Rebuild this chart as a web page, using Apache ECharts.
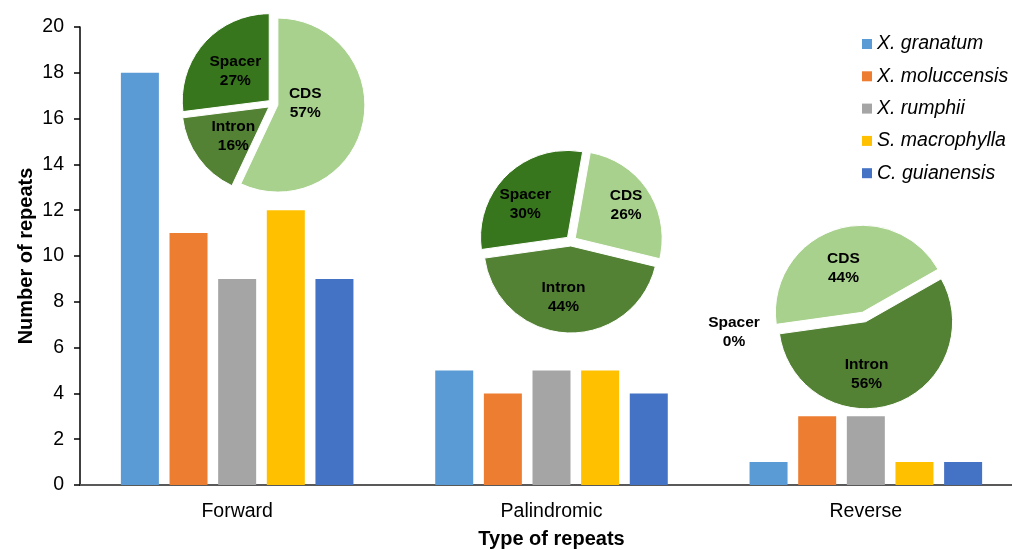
<!DOCTYPE html>
<html>
<head>
<meta charset="utf-8">
<title>Repeat types</title>
<script src="https://cdn.jsdelivr.net/npm/echarts@6/dist/echarts.min.js"></script>
<style>
  html, body { margin: 0; padding: 0; background: #fff; }
  #chart { width: 1012px; height: 550px; }
</style>
</head>
<body>
<div id="chart"></div>
<script>
// Repeat counts per type and species
const repeatTypes = ['Forward', 'Palindromic', 'Reverse'];
const species = ['X. granatum', 'X. moluccensis', 'X. rumphii', 'S. macrophylla', 'C. guianensis'];
const xGranatum = [18, 5, 1];
const xMoluccensis = [11, 4, 3];
const xRumphii = [9, 5, 3];
const sMacrophylla = [12, 5, 1];
const cGuianensis = [9, 4, 1];
const yTicks = { min: 0, max: 20, interval: 2 };

// Share (%) of repeats located in each genomic region, per repeat type
const regions = ['CDS', 'Intron', 'Spacer'];
const forwardShare = [57, 16, 27];
const palindromicShare = [26, 44, 30];
const reverseShare = [44, 56, 0];

const speciesColors = ['#5B9BD5', '#ED7D31', '#A5A5A5', '#FFC000', '#4472C4'];
const regionColors = ['#A9D18E', '#548235', '#38761D'];

// pie placement and label nudges (dx, dy per slice)
const pieLayouts = [
  { center: [273, 104], startAngle: 90,  nudge: [[-18, -12], [2, 2], [1, 1]] },
  { center: [571, 241], startAngle: 80,  nudge: [[12, -8], [-5, 5], [-10, 0]] },
  { center: [864, 317], startAngle: 188, nudge: [[-4, 0], [-14, 8], [-79, 8]] }
];

const seriesValues = [xGranatum, xMoluccensis, xRumphii, sMacrophylla, cGuianensis];
const barSeries = species.map((name, i) => ({
  name: name,
  type: 'bar',
  data: seriesValues[i],
  barWidth: 38,
  barGap: '28%',
  itemStyle: { color: speciesColors[i] },
  z: 2
}));

const shares = [forwardShare, palindromicShare, reverseShare];
const pieSeries = shares.map((vals, p) => ({
  type: 'pie',
  center: pieLayouts[p].center,
  radius: 87,
  startAngle: pieLayouts[p].startAngle,
  clockwise: true,
  selectedMode: 'multiple',
  selectedOffset: 5,
  silent: true,
  z: 5,
  animation: false,
  label: {
    show: true,
    position: 'inside',
    formatter: '{b}\n{c}%',
    color: '#000',
    fontFamily: 'Liberation Sans, Arial, sans-serif',
    fontWeight: 'bold',
    fontSize: 15.5,
    lineHeight: 19
  },
  labelLine: { show: false },
  labelLayout: function (params) {
    const n = pieLayouts[p].nudge[params.dataIndex];
    return { dx: n[0], dy: n[1] };
  },
  itemStyle: { borderColor: '#fff', borderWidth: 1 },
  select: { itemStyle: { borderColor: '#fff', borderWidth: 1 } },
  emphasis: { disabled: true },
  data: regions.map((r, k) => ({
    name: r,
    value: vals[k],
    selected: true,
    itemStyle: { color: regionColors[k] },
    select: { itemStyle: { color: regionColors[k] } }
  }))
}));

const chart = echarts.init(document.getElementById('chart'), null, { renderer: 'canvas' });
chart.setOption({
  animation: false,
  textStyle: { fontFamily: 'Liberation Sans, Arial, sans-serif' },
  grid: { left: 80, right: -11, top: 27, bottom: 65, containLabel: false, outerBoundsMode: 'none' },
  legend: {
    orient: 'vertical',
    left: 862,
    top: 34,
    padding: 0,
    icon: 'rect',
    itemWidth: 10,
    itemHeight: 10,
    itemGap: 12.3,
    data: species,
    textStyle: {
      fontSize: 19.5,
      lineHeight: 20,
      fontStyle: 'italic',
      color: '#000',
      fontFamily: 'Liberation Sans, Arial, sans-serif'
    }
  },
  xAxis: {
    type: 'category',
    data: repeatTypes,
    name: 'Type of repeats',
    nameLocation: 'middle',
    nameGap: 44,
    nameTextStyle: { fontSize: 20, fontWeight: 'bold', color: '#000' },
    axisLine: { lineStyle: { color: '#595959', width: 2 } },
    axisTick: { show: false },
    axisLabel: { fontSize: 19.5, color: '#000', margin: 17 }
  },
  yAxis: {
    type: 'value',
    min: yTicks.min,
    max: yTicks.max,
    interval: yTicks.interval,
    name: 'Number of repeats',
    nameLocation: 'middle',
    nameGap: 44,
    nameMoveOverlap: false,
    nameTextStyle: { fontSize: 20, fontWeight: 'bold', color: '#000' },
    axisLine: { show: true, lineStyle: { color: '#000', width: 1.5 } },
    axisTick: { show: true, length: 6, lineStyle: { color: '#000', width: 1.5 } },
    axisLabel: { fontSize: 19.5, color: '#000', margin: 16 },
    splitLine: { show: false }
  },
  series: barSeries.concat(pieSeries)
});
</script>
</body>
</html>
